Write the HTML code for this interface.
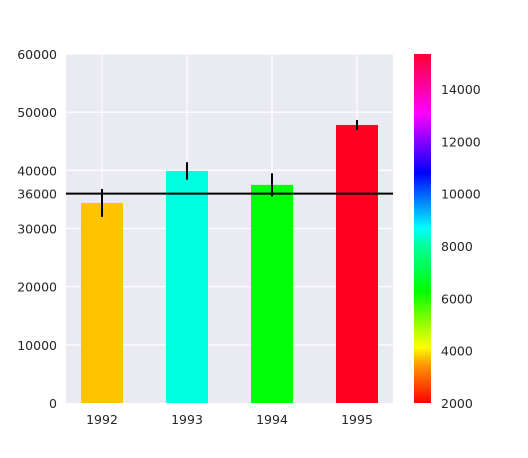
<!DOCTYPE html>
<html><head><meta charset="utf-8"><style>
body{margin:0;background:#fff;}
svg text{font-family:"DejaVu Sans","Liberation Sans",sans-serif;font-size:12.5px;fill:#262626;}
</style></head><body>
<svg id="c" width="528" height="453">
<defs><linearGradient id="hsv" x1="0" y1="1" x2="0" y2="0">
<stop offset="0" stop-color="#ff0000"/><stop offset="0.11" stop-color="#ff9900"/>
<stop offset="0.16" stop-color="#ffff00"/><stop offset="0.32" stop-color="#00ff00"/>
<stop offset="0.45" stop-color="#00ff99"/><stop offset="0.5" stop-color="#00ffff"/>
<stop offset="0.66" stop-color="#0000ff"/><stop offset="0.83" stop-color="#ff00ff"/>
<stop offset="1" stop-color="#ff0033"/></linearGradient></defs>
</svg>
<script>
const categories=["1992","1993","1994","1995"];
const values=[34400,39900,37500,47800];
const errors=[2400,1500,2000,850];
const barColors=["#ffc400","#00ffe0","#00ff08","#ff0022"];
const yTicks=[0,10000,20000,30000,36000,40000,50000,60000];
const refLine=36000;
const cbTicks=[2000,4000,6000,8000,10000,12000,14000];
const cbMin=2000,cbMax=15340;
const NS="http://www.w3.org/2000/svg",svg=document.getElementById('c');
function el(t,a,p){const e=document.createElementNS(NS,t);for(const k in a)e.setAttribute(k,a[k]);(p||svg).appendChild(e);return e;}
const L=66,R=393,T=54,B=403;
const y=v=>B-(v/60000)*(B-T);
const step=85,x=i=>102+i*step,bw=42;
let bg=el('rect',{x:L,y:T,width:R-L,height:B-T,fill:'#eaeaf2'});

yTicks.forEach(v=>{
 if(v!==36000&&v!==0){let g=el('line',{x1:L,x2:R,y1:y(v),y2:y(v),stroke:'#fff','stroke-width':1.2});
 }
 let t=el('text',{x:L-9,y:y(v)+5,'text-anchor':'end'});t.textContent=v;
 
});
categories.forEach((c,i)=>{
 let g=el('line',{x1:x(i),x2:x(i),y1:T,y2:B,stroke:'#fff','stroke-width':1.2});
 
});
categories.forEach((c,i)=>{
 let b=el('rect',{x:x(i)-bw/2,y:y(values[i]),width:bw,height:B-y(values[i]),fill:barColors[i]});
 
 let e=el('line',{x1:x(i),x2:x(i),y1:y(values[i]+errors[i]),y2:y(values[i]-errors[i]),stroke:'#000','stroke-width':2});
 
 let t=el('text',{x:x(i),y:B+21,'text-anchor':'middle'});t.textContent=c;
 
});
let rl=el('line',{x1:L,x2:R,y1:y(refLine),y2:y(refLine),stroke:'#000','stroke-width':2});

let cb=el('rect',{x:414,y:T,width:17,height:B-T,fill:'url(#hsv)'});

const cy=v=>B-(v-cbMin)/(cbMax-cbMin)*(B-T);
cbTicks.forEach(v=>{
 let t=el('text',{x:441,y:cy(v)+5});t.textContent=v;
 
});
</script>
</body></html>
